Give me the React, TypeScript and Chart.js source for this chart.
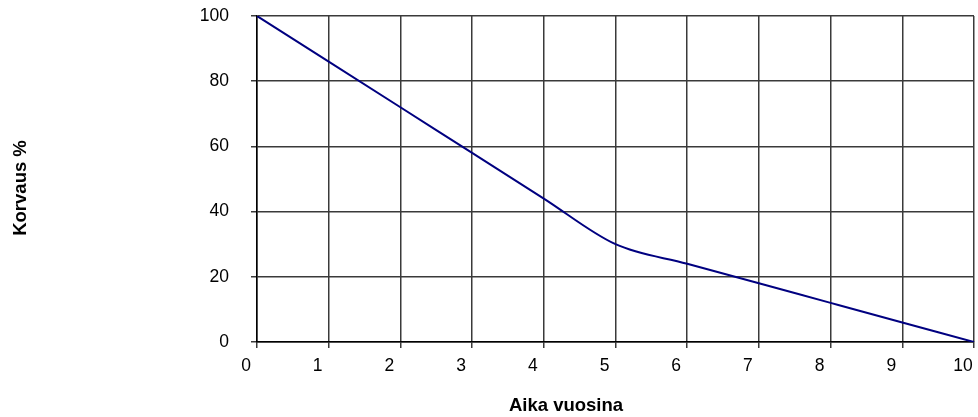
import React, { useEffect, useRef } from "react";
import { Chart, registerables } from "chart.js";

Chart.register(...registerables);

const years = [0, 1, 2, 3, 4, 5, 6, 7, 8, 9, 10];
const compensation = [100, 86, 72, 58, 44, 30, 24, 18, 12, 6, 0];
const xTitle = "Aika vuosina";
const yTitle = "Korvaus %";

const FONT = "'Liberation Sans', Arial, sans-serif";

const titlesPlugin = {
  id: "customTitles",
  afterDraw(chart: any) {
    const ctx = chart.ctx;
    ctx.save();
    ctx.fillStyle = "#000";
    ctx.font = `bold 18.5px ${FONT}`;
    ctx.textAlign = "center";
    ctx.textBaseline = "alphabetic";
    ctx.fillText(xTitle, 566, 411);
    ctx.translate(26, 188);
    ctx.rotate(-Math.PI / 2);
    ctx.fillText(yTitle, 0, 0);
    ctx.restore();
  },
};

export default function App() {
  const ref = useRef<HTMLCanvasElement | null>(null);
  useEffect(() => {
    document.body.style.margin = "0";
    const chart = new Chart(ref.current as HTMLCanvasElement, {
      type: "line",
      data: {
        datasets: [
          {
            data: years.map((x, i) => ({ x, y: compensation[i] })),
            borderColor: "#000080",
            borderWidth: 2,
            pointRadius: 0,
            cubicInterpolationMode: "monotone",
            fill: false,
          },
        ],
      },
      options: {
        responsive: false,
        animation: false,
        layout: { padding: { top: 16, right: 4, left: 0, bottom: 0 } },
        plugins: { legend: { display: false }, tooltip: { enabled: false } },
        scales: {
          x: {
            type: "linear",
            min: 0,
            max: 10,
            ticks: {
              stepSize: 1,
              color: "#000",
              font: { family: FONT, size: 17.5 },
              padding: 8,
              labelOffset: -11,
              maxRotation: 0,
              autoSkip: false,
            },
            grid: { color: "#3a3a3a", lineWidth: 1.5, tickLength: 6 },
            border: { color: "#000", width: 1.5 },
            afterFit: (s: any) => {
              s.height = 75;
              s.paddingLeft = 0;
              s.paddingRight = 0;
            },
          },
          y: {
            min: 0,
            max: 100,
            ticks: {
              stepSize: 20,
              color: "#000",
              font: { family: FONT, size: 17.5 },
              padding: 22,
            },
            grid: { color: "#3a3a3a", lineWidth: 1.5, tickLength: 6 },
            border: { color: "#000", width: 1.5 },
            afterFit: (s: any) => {
              s.width = 257;
              s.paddingTop = 0;
              s.paddingBottom = 0;
            },
          },
        },
      },
      plugins: [titlesPlugin],
    } as any);
    return () => chart.destroy();
  }, []);
  return (
    <div style={{ position: "absolute", left: 0, top: 0, width: 978, height: 417, background: "#fff" }}>
      <canvas ref={ref} width={978} height={417} />
    </div>
  );
}
